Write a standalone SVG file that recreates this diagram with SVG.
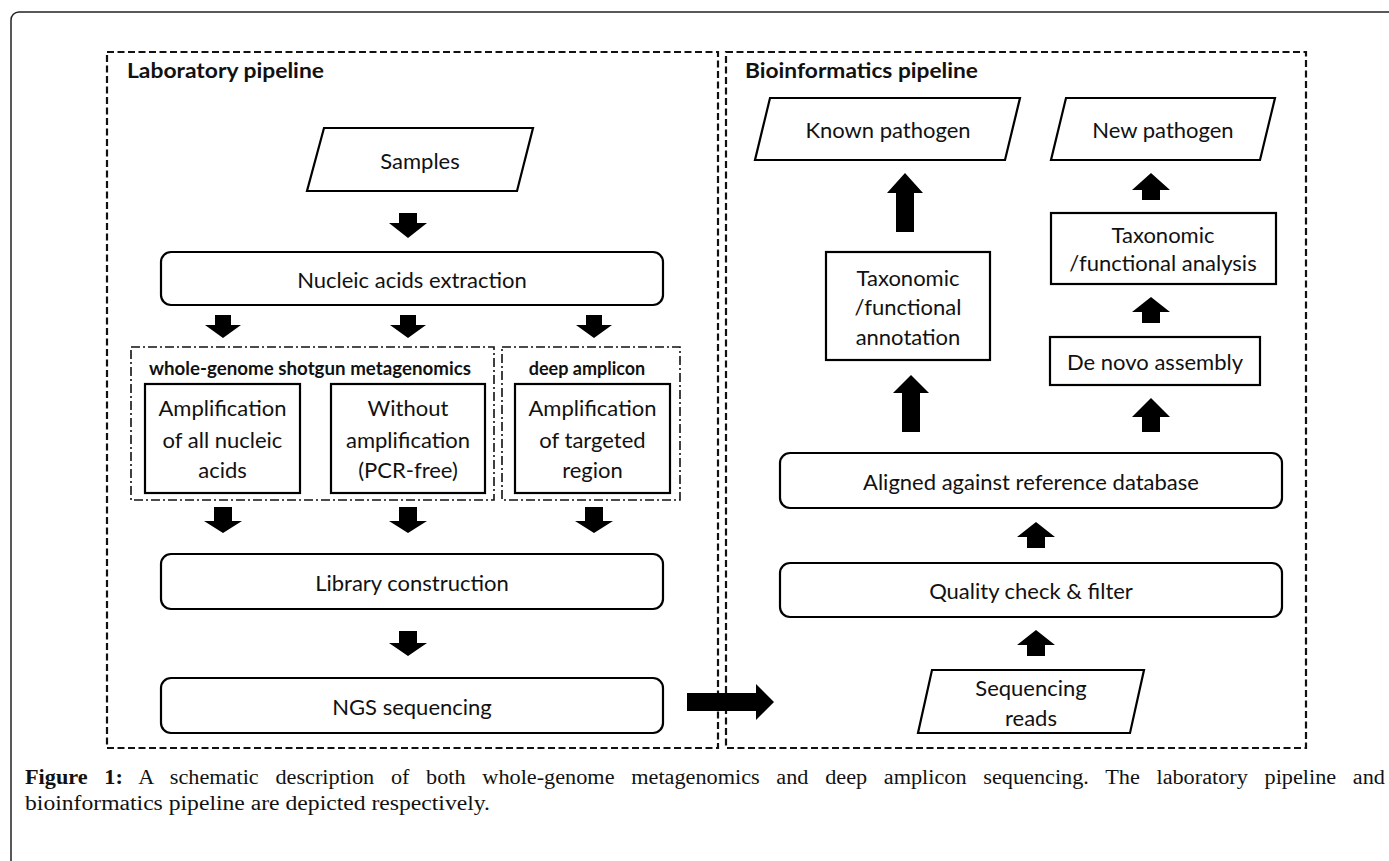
<svg xmlns="http://www.w3.org/2000/svg" width="1389" height="861" viewBox="0 0 1389 861">
<style>
.frame{fill:none;stroke:#222;stroke-width:1.5}
.panel{fill:none;stroke:#111;stroke-width:2.2;stroke-dasharray:7 3.5}
.group{fill:none;stroke:#111;stroke-width:1.6;stroke-dasharray:9 3 2 3}
.node{fill:#fff;stroke:#000;stroke-width:2.2}
.t{font-family:Lato,"Liberation Sans",sans-serif;font-size:22px;fill:#111;text-anchor:middle}
.title{font-family:Lato,"Liberation Sans",sans-serif;font-size:21px;font-weight:bold;fill:#111}
.glabel{font-family:Lato,"Liberation Sans",sans-serif;font-size:18px;font-weight:bold;fill:#111;text-anchor:middle}
.cap{font-family:"Liberation Serif",serif;font-size:20px;fill:#111}
.arr{fill:#000}
</style>
<rect class="frame" x="11" y="12" width="1400" height="900" rx="8"/>
<g id="laboratory-pipeline">
<rect class="panel" x="107" y="52" width="611" height="696"/>
<text class="title" x="127" y="78" textLength="197" lengthAdjust="spacingAndGlyphs">Laboratory pipeline</text>
</g>
<g id="bioinformatics-pipeline">
<rect class="panel" x="726" y="52" width="580" height="696"/>
<text class="title" x="745" y="78" textLength="233" lengthAdjust="spacingAndGlyphs">Bioinformatics pipeline</text>
</g>
<g id="samples">
<polygon class="node" points="324,128 533,128 517,191 307,191"/>
<text class="t" x="420" y="169">Samples</text>
</g>
<g id="nucleic-acids-extraction">
<rect class="node" x="161" y="252" width="502" height="53" rx="10"/>
<text class="t" x="412" y="288">Nucleic acids extraction</text>
</g>
<g id="wgs-group">
<rect class="group" x="131" y="347" width="363" height="153"/>
<text class="glabel" x="310" y="375" textLength="322" lengthAdjust="spacingAndGlyphs">whole-genome shotgun metagenomics</text>
</g>
<g id="deep-amplicon-group">
<rect class="group" x="502" y="347" width="178" height="153"/>
<text class="glabel" x="587" y="375">deep amplicon</text>
</g>
<g id="amplification-all">
<rect class="node" x="145" y="384" width="155" height="109"/>
<text class="t" x="222.5" y="416">Amplification</text>
<text class="t" x="222.5" y="448">of all nucleic</text>
<text class="t" x="222.5" y="478">acids</text>
</g>
<g id="without-amplification">
<rect class="node" x="331" y="384" width="154" height="109"/>
<text class="t" x="408" y="416">Without</text>
<text class="t" x="408" y="448">amplification</text>
<text class="t" x="408" y="478">(PCR-free)</text>
</g>
<g id="amplification-targeted">
<rect class="node" x="515" y="384" width="155" height="109"/>
<text class="t" x="592.5" y="416">Amplification</text>
<text class="t" x="592.5" y="448">of targeted</text>
<text class="t" x="592.5" y="478">region</text>
</g>
<g id="library-construction">
<rect class="node" x="161" y="554" width="502" height="55" rx="10"/>
<text class="t" x="412" y="591">Library construction</text>
</g>
<g id="ngs-sequencing">
<rect class="node" x="161" y="678" width="502" height="55" rx="10"/>
<text class="t" x="412" y="715">NGS sequencing</text>
</g>
<g id="known-pathogen">
<polygon class="node" points="770,98 1020,98 1005,160 755,160"/>
<text class="t" x="888" y="138">Known pathogen</text>
</g>
<g id="new-pathogen">
<polygon class="node" points="1066,98 1275,98 1260,160 1051,160"/>
<text class="t" x="1163" y="138">New pathogen</text>
</g>
<g id="taxonomic-annotation">
<rect class="node" x="826" y="252" width="164" height="108"/>
<text class="t" x="908" y="286">Taxonomic</text>
<text class="t" x="908" y="315">/functional</text>
<text class="t" x="908" y="345">annotation</text>
</g>
<g id="taxonomic-analysis">
<rect class="node" x="1051" y="213" width="225" height="71"/>
<text class="t" x="1163" y="243">Taxonomic</text>
<text class="t" x="1163" y="271">/functional analysis</text>
</g>
<g id="de-novo-assembly">
<rect class="node" x="1050" y="337" width="210" height="48"/>
<text class="t" x="1155" y="370">De novo assembly</text>
</g>
<g id="aligned-reference">
<rect class="node" x="780" y="453" width="502" height="55" rx="10"/>
<text class="t" x="1031" y="490">Aligned against reference database</text>
</g>
<g id="quality-check">
<rect class="node" x="780" y="563" width="502" height="54" rx="10"/>
<text class="t" x="1031" y="599">Quality check &amp; filter</text>
</g>
<g id="sequencing-reads">
<polygon class="node" points="932,670 1144,670 1130,733 918,733"/>
<text class="t" x="1031" y="696">Sequencing</text>
<text class="t" x="1031" y="726">reads</text>
</g>
<g id="connectors">
<polygon class="arr" points="399,213 417,213 417,223 427,223 408,238 389,223 399,223"/>
<polygon class="arr" points="215,315 231,315 231,325 241,325 223,338 205,325 215,325"/>
<polygon class="arr" points="400,315 416,315 416,325 426,325 408,338 390,325 400,325"/>
<polygon class="arr" points="586,315 602,315 602,325 612,325 594,338 576,325 586,325"/>
<polygon class="arr" points="214,507 232,507 232,521 242,521 223,533 204,521 214,521"/>
<polygon class="arr" points="399,507 417,507 417,521 427,521 408,533 389,521 399,521"/>
<polygon class="arr" points="585,507 603,507 603,521 613,521 594,533 575,521 585,521"/>
<polygon class="arr" points="399,631 417,631 417,643 427,643 408,656 389,643 399,643"/>
<polygon class="arr" points="687,693 756,693 756,684 774,702 756,720 756,711 687,711"/>
<polygon class="arr" points="1027,656 1045,656 1045,645 1055,645 1036,630 1017,645 1027,645"/>
<polygon class="arr" points="1027,548 1045,548 1045,537 1055,537 1036,522 1017,537 1027,537"/>
<polygon class="arr" points="902,432 920,432 920,393 929,393 911,375 893,393 902,393"/>
<polygon class="arr" points="896,232 914,232 914,193 923,193 905,173 887,193 896,193"/>
<polygon class="arr" points="1142,432 1160,432 1160,417 1170,417 1151,398 1132,417 1142,417"/>
<polygon class="arr" points="1142,323 1160,323 1160,312 1170,312 1151,297 1132,312 1142,312"/>
<polygon class="arr" points="1142,200 1160,200 1160,190 1170,190 1151,173 1132,190 1142,190"/>
</g>
<g id="caption">
<text class="cap" x="25" y="784" word-spacing="10" textLength="1360" lengthAdjust="spacingAndGlyphs"><tspan font-weight="bold">Figure 1:</tspan> A schematic description of both whole-genome metagenomics and deep amplicon sequencing. The laboratory pipeline and</text>
<text class="cap" x="25" y="810" textLength="465" lengthAdjust="spacingAndGlyphs">bioinformatics pipeline are depicted respectively.</text>
</g>
</svg>
